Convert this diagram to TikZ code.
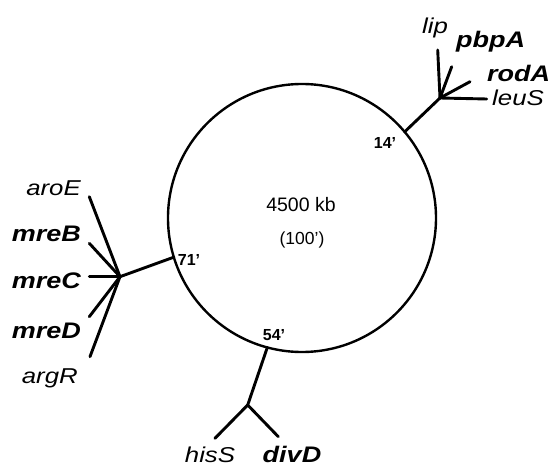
\documentclass[tikz,border=0pt]{standalone}
\usepackage{fontspec}
\setmainfont{Liberation Sans}
\newfontfamily\labfont[FakeStretch=1.2]{Liberation Sans}
\begin{document}
\begin{tikzpicture}[x=1pt,y=-1pt,
  gene/.style={font=\labfont\itshape\fontsize{21.5}{24}\selectfont, inner sep=0pt},
  bgene/.style={font=\labfont\bfseries\itshape\fontsize{22.5}{24}\selectfont, inner sep=0pt},
  mapos/.style={font=\bfseries\fontsize{16}{18}\selectfont, inner sep=0pt},
  inner/.style={font=\fontsize{19.5}{22}\selectfont, inner sep=0pt},
  branch/.style={line width=2.9pt, line cap=round},
  chrom/.style={circle, draw, line width=2.4pt, minimum size=268pt, inner sep=0pt, outer sep=0pt}]
\useasboundingbox (0,0) rectangle (555,470);
\node[chrom] (chr) at (302,218) {};
\node[inner] (kb) at (301,205) {4500 kb};
\node[inner, font=\fontsize{17.5}{20}\selectfont] (pct) at (302,240) {(100')};
\node[mapos] (m14) at (385,143) {14'};
\node[mapos] (m71) at (189,260) {71'};
\node[mapos] (m54) at (274,335) {54'};
% 14' branch
\coordinate (h14) at (440,98);
\coordinate (elip) at (437.7,50);
\coordinate (epbp) at (451.7,66.7);
\coordinate (erod) at (470,81.7);
\coordinate (eleu) at (486.7,99);
\draw[branch] (chr.40) -- (h14);
\draw[branch] (h14) -- (elip);
\draw[branch] (h14) -- (epbp);
\draw[branch] (h14) -- (erod);
\draw[branch] (h14) -- (eleu);
\node[gene, anchor=base west] (lip) at (422,34) {lip};
\node[bgene, anchor=base west] (pbpA) at (456,48) {pbpA};
\node[bgene, anchor=base west] (rodA) at (487,82) {rodA};
\node[gene, anchor=base west] (leuS) at (492,106) {leuS};
% 71' branch
\coordinate (h71) at (120,276.7);
\coordinate (earo) at (89.3,196.7);
\coordinate (emreB) at (89.3,243.3);
\coordinate (emreC) at (89.3,276.7);
\coordinate (emreD) at (89.3,316.7);
\coordinate (earg) at (90,356.7);
\draw[branch] (chr.197) -- (h71);
\draw[branch] (h71) -- (earo);
\draw[branch] (h71) -- (emreB);
\draw[branch] (h71) -- (emreC);
\draw[branch] (h71) -- (emreD);
\draw[branch] (h71) -- (earg);
\node[gene, anchor=base east] (aroE) at (81,196) {aroE};
\node[bgene, anchor=base east] (mreB) at (81,242) {mreB};
\node[bgene, anchor=base east] (mreC) at (81,289) {mreC};
\node[bgene, anchor=base east] (mreD) at (81,339) {mreD};
\node[gene, anchor=base east] (argR) at (78,384) {argR};
% 54' branch
\coordinate (h54) at (247.7,405);
\coordinate (ehis) at (215,438.3);
\coordinate (ediv) at (278.3,436.7);
\draw[branch] (chr.255) -- (h54);
\draw[branch] (h54) -- (ehis);
\draw[branch] (h54) -- (ediv);
\node[gene, anchor=base] (hisS) at (210,463) {hisS};
\node[bgene, anchor=base] (divD) at (292,463) {divD};
\end{tikzpicture}
\end{document}
